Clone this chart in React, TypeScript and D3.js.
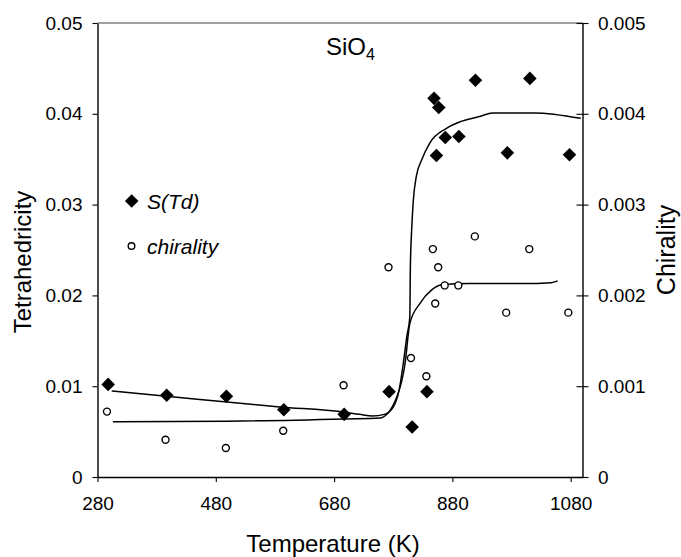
import { useEffect, useRef } from 'react';
import * as d3 from 'd3';

// S(Td) measured points (left axis)
const tdTemps = [298, 397, 498, 595, 697, 773, 812, 837, 849, 853, 857, 868, 891, 919, 973, 1011, 1078];
const tdValues = [0.0102, 0.009, 0.0089, 0.0074, 0.0069, 0.0094, 0.0055, 0.0094, 0.0417, 0.0354, 0.0407, 0.0374, 0.0375, 0.0437, 0.0357, 0.0439, 0.0355];

// chirality measured points (right axis)
const chiralTemps = [296, 395, 497, 594, 696, 772, 810, 836, 847, 851, 856, 867, 890, 918, 971, 1010, 1076];
const chiralValues = [0.00072, 0.00041, 0.00032, 0.00051, 0.00101, 0.00231, 0.00131, 0.00111, 0.00251, 0.00191, 0.00231, 0.00211, 0.00211, 0.00265, 0.00181, 0.00251, 0.00181];

// fitted curves
const tdFitTemps = [304, 453, 588, 695, 723, 745, 765, 780, 790, 797, 803, 808, 809, 811, 814, 819, 828, 842, 870, 892, 926, 948, 1019, 1097];
const tdFitValues = [0.00948, 0.00853, 0.00772, 0.00717, 0.0069, 0.00672, 0.0069, 0.0077, 0.0096, 0.0125, 0.0155, 0.0176, 0.0232, 0.027, 0.0305, 0.0331, 0.0349, 0.0368, 0.0384, 0.0391, 0.0397, 0.0401, 0.0401, 0.0395];

const chiralFitTemps = [306, 500, 700, 758, 786, 800, 808, 825, 845, 864, 909, 1000, 1047, 1058];
const chiralFitValues = [0.000609, 0.000615, 0.00064, 0.00065, 0.00088, 0.00125, 0.00169, 0.00191, 0.00206, 0.00212, 0.00213, 0.00213, 0.00214, 0.00216];

const xTicks = [280, 480, 680, 880, 1080];
const leftTicks = [0, 0.01, 0.02, 0.03, 0.04, 0.05];
const leftTickLabels = ['0', '0.01', '0.02', '0.03', '0.04', '0.05'];
const rightTicks = [0, 0.001, 0.002, 0.003, 0.004, 0.005];
const rightTickLabels = ['0', '0.001', '0.002', '0.003', '0.004', '0.005'];

const FONT = '"Liberation Sans", Arial, sans-serif';

export default function App() {
  const svgRef = useRef<SVGSVGElement>(null);

  useEffect(() => {
    const svg = d3.select(svgRef.current);
    svg.selectAll('*').remove();

    const x = d3.scaleLinear().domain([280, 1100]).range([97.5, 582.5]);
    const yL = d3.scaleLinear().domain([0, 0.05]).range([477, 23]);
    const yR = d3.scaleLinear().domain([0, 0.005]).range([477, 23]);

    // top frame line
    svg.append('line')
      .attr('x1', x(280)).attr('x2', x(1100))
      .attr('y1', yL(0.05)).attr('y2', yL(0.05))
      .attr('stroke', '#444').attr('stroke-width', 1.2);

    const styleAxis = (g: any) => {
      g.select('.domain').attr('stroke', '#000').attr('stroke-width', 1.4);
      g.selectAll('.tick line').attr('stroke', '#000').attr('stroke-width', 1.1);
      g.selectAll('.tick text').attr('fill', '#000').style('font-family', FONT).style('font-size', '19px');
    };

    svg.append('g')
      .attr('transform', `translate(${x(280)},0)`)
      .call(d3.axisLeft(yL).tickValues(leftTicks).tickFormat((d, i) => leftTickLabels[i]).tickSize(5).tickPadding(10).tickSizeOuter(0))
      .call(styleAxis);

    const right = svg.append('g')
      .attr('transform', `translate(${x(1100)},0)`)
      .call(d3.axisRight(yR).tickValues(rightTicks).tickFormat((d, i) => rightTickLabels[i]).tickSize(6).tickPadding(9.5).tickSizeOuter(0))
      .call(styleAxis);
    right.selectAll('.tick line').attr('x1', -6);

    svg.append('g')
      .attr('transform', `translate(0,${yL(0)})`)
      .call(d3.axisBottom(x).tickValues(xTicks).tickFormat(d3.format('d')).tickSize(5).tickPadding(15).tickSizeOuter(0))
      .call(styleAxis);

    // fitted lines
    const tdLine = d3.line<number>()
      .x((d, i) => x(tdFitTemps[i]))
      .y(d => yL(d))
      .curve(d3.curveMonotoneX);
    svg.append('path')
      .attr('d', tdLine(tdFitValues))
      .attr('fill', 'none').attr('stroke', '#000').attr('stroke-width', 1.5);

    const chiralLine = d3.line<number>()
      .x((d, i) => x(chiralFitTemps[i]))
      .y(d => yR(d))
      .curve(d3.curveMonotoneX);
    svg.append('path')
      .attr('d', chiralLine(chiralFitValues))
      .attr('fill', 'none').attr('stroke', '#000').attr('stroke-width', 1.5);

    // markers
    const diamond = d3.symbol().type(d3.symbolSquare).size(92);
    svg.append('g').selectAll('path')
      .data(tdValues)
      .join('path')
      .attr('d', diamond)
      .attr('transform', (d, i) => `translate(${x(tdTemps[i])},${yL(d)}) rotate(45)`)
      .attr('fill', '#000');

    svg.append('g').selectAll('circle')
      .data(chiralValues)
      .join('circle')
      .attr('cx', (d, i) => x(chiralTemps[i]))
      .attr('cy', d => yR(d))
      .attr('r', 3.5)
      .attr('fill', '#fff').attr('stroke', '#000').attr('stroke-width', 1.4);

    // legend
    svg.append('path').attr('d', diamond).attr('transform', 'translate(131.7,201) rotate(45)').attr('fill', '#000');
    svg.append('text').attr('x', 147).attr('y', 209).text('S(Td)')
      .style('font-family', FONT).style('font-size', '21px').style('font-style', 'italic');
    svg.append('circle').attr('cx', 131.5).attr('cy', 246).attr('r', 3.3)
      .attr('fill', '#fff').attr('stroke', '#000').attr('stroke-width', 1.4);
    svg.append('text').attr('x', 147).attr('y', 254).text('chirality')
      .style('font-family', FONT).style('font-size', '21px').style('font-style', 'italic');

    // title
    const title = svg.append('text').attr('x', 326).attr('y', 55)
      .style('font-family', FONT).style('font-size', '24px');
    title.append('tspan').text('SiO');
    title.append('tspan').attr('dy', 5).style('font-size', '16px').text('4');

    // axis titles
    svg.append('text')
      .attr('transform', 'translate(31,262) rotate(-90)')
      .attr('text-anchor', 'middle')
      .style('font-family', FONT).style('font-size', '24px')
      .text('Tetrahedricity');
    svg.append('text')
      .attr('transform', 'translate(675,250) rotate(-90)')
      .attr('text-anchor', 'middle')
      .style('font-family', FONT).style('font-size', '25px')
      .text('Chirality');
    svg.append('text')
      .attr('x', 333).attr('y', 552)
      .attr('text-anchor', 'middle')
      .style('font-family', FONT).style('font-size', '24px')
      .text('Temperature (K)');
  }, []);

  return (
    <svg ref={svgRef} width={681} height={557}
      style={{ position: 'absolute', left: 0, top: 0, background: '#fff' }} />
  );
}
